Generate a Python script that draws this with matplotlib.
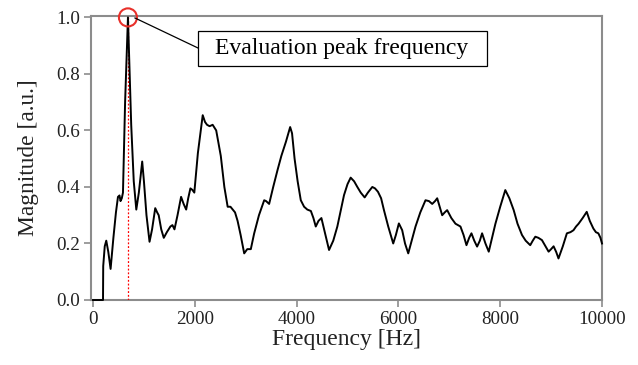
import matplotlib
matplotlib.use("Agg")
import matplotlib.pyplot as plt
from matplotlib.patches import Ellipse, Rectangle
from matplotlib.lines import Line2D

freq_hz = [0, 100, 196, 200, 230, 260, 300, 345, 400, 450, 490, 520, 540, 565, 588, 630, 686,
           720, 750, 800, 850, 900, 966, 1000, 1050, 1110, 1160, 1222, 1260, 1290, 1340, 1390,
           1450, 1520, 1560, 1600, 1660, 1730, 1780, 1830, 1870, 1913, 1950, 1990, 2060, 2155,
           2200, 2240, 2290, 2350, 2420, 2470, 2510, 2580, 2645, 2700, 2745, 2790, 2840, 2900,
           2970, 3030, 3100, 3165, 3260, 3363, 3400, 3460, 3540, 3625, 3700, 3790, 3873, 3910,
           3960, 4020, 4082, 4147, 4210, 4280, 4330, 4376, 4430, 4487, 4540, 4637, 4720, 4800,
           4870, 4931, 5000, 5062, 5130, 5193, 5260, 5337, 5400, 5487, 5540, 5598, 5660, 5716,
           5800, 5898, 5950, 6009, 6074, 6130, 6193, 6260, 6336, 6430, 6532, 6600, 6664, 6720,
           6762, 6810, 6860, 6910, 6958, 7040, 7121, 7170, 7219, 7280, 7337, 7390, 7435, 7490,
           7546, 7600, 7644, 7710, 7775, 7840, 7906, 8000, 8100, 8180, 8265, 8340, 8428, 8500,
           8590, 8640, 8690, 8750, 8820, 8890, 8951, 9000, 9049, 9100, 9145, 9230, 9310, 9380,
           9440, 9490, 9540, 9620, 9700, 9760, 9830, 9880, 9928, 9970, 10000]
magnitude = [0.0, 0.0, 0.0, 0.12, 0.19, 0.21, 0.17, 0.11, 0.22, 0.31, 0.365, 0.37, 0.35, 0.36,
             0.38, 0.70, 1.0, 0.80, 0.62, 0.42, 0.32, 0.38, 0.49, 0.42, 0.30, 0.206, 0.25, 0.325,
             0.31, 0.30, 0.25, 0.22, 0.24, 0.26, 0.265, 0.25, 0.30, 0.365, 0.34, 0.32, 0.36, 0.395,
             0.39, 0.38, 0.52, 0.654, 0.63, 0.62, 0.615, 0.62, 0.60, 0.55, 0.51, 0.40, 0.33, 0.33,
             0.32, 0.31, 0.28, 0.23, 0.165, 0.18, 0.18, 0.235, 0.30, 0.353, 0.35, 0.34, 0.40, 0.46,
             0.51, 0.56, 0.612, 0.59, 0.50, 0.42, 0.353, 0.33, 0.32, 0.315, 0.29, 0.26, 0.28, 0.29,
             0.25, 0.177, 0.21, 0.26, 0.32, 0.371, 0.41, 0.433, 0.42, 0.40, 0.38, 0.363, 0.38,
             0.40, 0.395, 0.383, 0.36, 0.318, 0.26, 0.20, 0.23, 0.271, 0.247, 0.20, 0.165, 0.21,
             0.26, 0.31, 0.353, 0.35, 0.34, 0.35, 0.36, 0.33, 0.30, 0.31, 0.318, 0.29, 0.27, 0.265,
             0.26, 0.23, 0.194, 0.22, 0.236, 0.21, 0.189, 0.21, 0.236, 0.20, 0.171, 0.22, 0.27,
             0.33, 0.389, 0.36, 0.318, 0.27, 0.23, 0.21, 0.194, 0.21, 0.224, 0.22, 0.212, 0.19,
             0.171, 0.18, 0.19, 0.17, 0.147, 0.19, 0.236, 0.24, 0.247, 0.26, 0.27, 0.29, 0.312,
             0.28, 0.253, 0.24, 0.236, 0.22, 0.20]

peak_hz = 686
peak_mag = 1.0
annotation_text = "Evaluation peak frequency"
x_ticks = [0, 2000, 4000, 6000, 8000, 10000]
y_ticks = [0.0, 0.2, 0.4, 0.6, 0.8, 1.0]

plt.rcParams['font.family'] = ['Liberation Serif', 'DejaVu Serif']

W, H = 638, 365
fig = plt.figure(figsize=(W / 100, H / 100), dpi=100)
ax = fig.add_axes([91 / W, 1 - 300 / H, (602 - 91) / W, (300 - 16) / H])

ax.plot(freq_hz, magnitude, color='black', lw=1.4, solid_joinstyle='round',
        zorder=4, clip_on=False)
ax.plot([peak_hz, peak_hz], [0, peak_mag], color='red', lw=0.9, ls=(0, (1.5, 1.5)), zorder=3)

ax.set_xlim(-40, 10000)
ax.set_ylim(0, 1.005)
ax.set_xticks(x_ticks)
ax.set_yticks(y_ticks)
ax.set_yticklabels([f"{v:.1f}" for v in y_ticks])

for s in ax.spines.values():
    s.set_color('#8c8c8c')
    s.set_linewidth(1.5)
ax.tick_params(axis='both', direction='out', length=5, width=1.2, color='#8c8c8c',
               labelsize=13.7, labelcolor='#222222', pad=3)

ax.set_xlabel("Frequency [Hz]", fontsize=17, color='#222222', labelpad=1)
ax.set_ylabel("Magnitude [a.u.]", fontsize=16.9, color='#222222', labelpad=12)

# red circle at the peak (~18 px diameter)
circ = Ellipse((peak_hz, peak_mag), width=354, height=0.064, fill=False,
               edgecolor='#e8302a', lw=1.5, clip_on=False, zorder=5)
ax.add_patch(circ)

# leader line and text box (figure pixel positions)
def fx(px):
    return px / W

def fy(py):
    return 1 - py / H

fig.add_artist(Line2D([fx(135), fx(198)], [fy(18), fy(48)], color='black', lw=0.9,
                      transform=fig.transFigure))
fig.add_artist(Rectangle((fx(198), fy(66)), fx(487) - fx(198), fy(31) - fy(66),
                         transform=fig.transFigure, fc='white', ec='black', lw=0.9))
fig.text(fx(342), fy(48.5), annotation_text, fontsize=17, color='black',
         ha='center', va='center')

fig.savefig("out.png", dpi=100)
